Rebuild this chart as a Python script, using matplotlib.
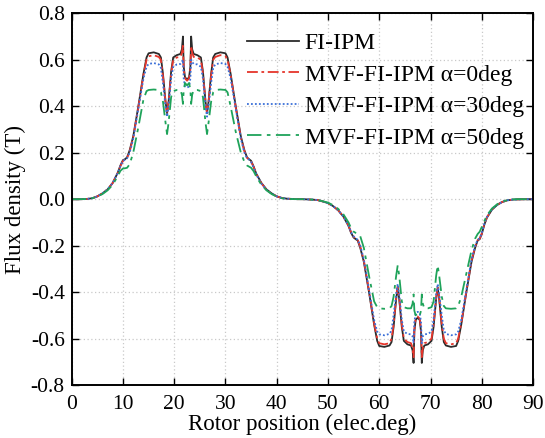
import matplotlib
matplotlib.use("Agg")
import matplotlib.pyplot as plt

plt.rcParams['font.family'] = ['Liberation Serif', 'DejaVu Serif']
plt.rcParams['mathtext.fontset'] = 'stix'

# rotor position (elec. deg)
x_pos = [0, 2, 3, 4, 5, 6, 7, 8, 9,
         9.5, 10, 10.4, 10.8, 11.3,
         12, 13, 14, 14.6, 15,
         16, 17, 17.4, 17.8, 18.3,
         18.6, 18.9, 19.4, 19.8, 20.5,
         21.2, 21.5, 21.7, 21.85, 22.1,
         22.5, 22.9, 23.15, 23.3, 23.5,
         23.8, 24.5, 25.2, 25.6, 26.1,
         26.4, 26.7, 27.2, 27.6, 28,
         29, 30, 30.4, 31, 32,
         33, 33.7, 34.2, 34.6, 35,
         35.5, 36, 37, 38, 39,
         40, 41, 42, 44]
x_neg = [45, 47, 48, 49, 50, 51, 52, 53, 54,
         54.5, 55, 55.4, 55.8, 56.3,
         57, 58, 59, 59.6, 60,
         61, 62, 62.4, 62.8, 63.3,
         63.6, 63.9, 64.4, 64.8, 65.5,
         66.2, 66.5, 66.7, 66.85, 67.1,
         67.5, 67.9, 68.15, 68.3, 68.5,
         68.8, 69.5, 70.2, 70.6, 71.1,
         71.4, 71.7, 72.2, 72.6, 73,
         74, 75, 75.4, 76, 77,
         78, 78.7, 79.2, 79.6, 80,
         80.5, 81, 82, 83, 84,
         85, 86, 87, 89, 90]

fi_pos = [0, 0, 0.001, 0.004, 0.012, 0.025, 0.042, 0.07, 0.115,
          0.145, 0.168, 0.172, 0.18, 0.21,
          0.27, 0.40, 0.54, 0.61, 0.628,
          0.632, 0.625, 0.61, 0.54, 0.42,
          0.37, 0.42, 0.55, 0.61, 0.62,
          0.625, 0.645, 0.70, 0.57, 0.525,
          0.515, 0.525, 0.57, 0.70, 0.645,
          0.625, 0.62, 0.61, 0.55, 0.42,
          0.37, 0.42, 0.54, 0.61, 0.625,
          0.632, 0.628, 0.61, 0.54, 0.40,
          0.27, 0.21, 0.18, 0.172, 0.165,
          0.14, 0.11, 0.07, 0.042, 0.025,
          0.012, 0.005, 0.002, 0.0]
fi_neg = [0, -0.002, -0.004, -0.01, -0.017, -0.03, -0.048, -0.075, -0.115,
          -0.145, -0.165, -0.172, -0.178, -0.21,
          -0.27, -0.40, -0.54, -0.61, -0.632,
          -0.636, -0.63, -0.615, -0.55, -0.43,
          -0.38, -0.43, -0.55, -0.61, -0.625,
          -0.63, -0.65, -0.705, -0.57, -0.52,
          -0.51, -0.52, -0.57, -0.705, -0.65,
          -0.63, -0.625, -0.61, -0.55, -0.43,
          -0.38, -0.43, -0.55, -0.615, -0.63,
          -0.636, -0.632, -0.61, -0.54, -0.40,
          -0.27, -0.21, -0.178, -0.172, -0.15,
          -0.11, -0.08, -0.045, -0.025, -0.012,
          -0.005, -0.002, -0.001, 0, 0]

a0_pos = [0, 0, 0.001, 0.004, 0.012, 0.025, 0.042, 0.07, 0.113,
          0.142, 0.165, 0.17, 0.178, 0.205,
          0.265, 0.395, 0.535, 0.6, 0.615,
          0.62, 0.612, 0.6, 0.53, 0.42,
          0.37, 0.42, 0.54, 0.6, 0.61,
          0.612, 0.63, 0.66, 0.56, 0.52,
          0.51, 0.52, 0.56, 0.66, 0.63,
          0.612, 0.61, 0.6, 0.54, 0.42,
          0.37, 0.42, 0.53, 0.6, 0.612,
          0.62, 0.615, 0.6, 0.535, 0.395,
          0.265, 0.205, 0.178, 0.17, 0.162,
          0.138, 0.108, 0.068, 0.041, 0.024,
          0.012, 0.005, 0.002, 0.0]
a0_neg = [0, -0.002, -0.004, -0.01, -0.017, -0.03, -0.048, -0.075, -0.113,
          -0.142, -0.162, -0.17, -0.176, -0.205,
          -0.265, -0.395, -0.535, -0.6, -0.62,
          -0.625, -0.62, -0.6, -0.54, -0.425,
          -0.375, -0.425, -0.54, -0.6, -0.615,
          -0.62, -0.64, -0.68, -0.56, -0.515,
          -0.505, -0.515, -0.56, -0.68, -0.64,
          -0.62, -0.615, -0.6, -0.54, -0.425,
          -0.375, -0.425, -0.54, -0.6, -0.62,
          -0.625, -0.62, -0.6, -0.535, -0.395,
          -0.265, -0.205, -0.176, -0.17, -0.148,
          -0.108, -0.078, -0.044, -0.024, -0.012,
          -0.005, -0.002, -0.001, 0, 0]

a30_pos = [0, 0, 0.001, 0.004, 0.012, 0.025, 0.042, 0.07, 0.113,
           0.142, 0.165, 0.17, 0.176, 0.2,
           0.26, 0.39, 0.52, 0.57, 0.582,
           0.586, 0.58, 0.565, 0.5, 0.4,
           0.355, 0.4, 0.52, 0.57, 0.58,
           0.582, 0.59, 0.6, 0.52, 0.485,
           0.48, 0.485, 0.52, 0.6, 0.59,
           0.582, 0.58, 0.57, 0.52, 0.4,
           0.355, 0.4, 0.5, 0.565, 0.58,
           0.586, 0.582, 0.57, 0.52, 0.39,
           0.26, 0.2, 0.176, 0.17, 0.16,
           0.136, 0.106, 0.067, 0.04, 0.024,
           0.012, 0.005, 0.002, 0.0]
a30_neg = [0, -0.002, -0.004, -0.01, -0.017, -0.03, -0.048, -0.075, -0.113,
           -0.142, -0.16, -0.168, -0.175, -0.2,
           -0.26, -0.39, -0.52, -0.57, -0.582,
           -0.586, -0.58, -0.565, -0.5, -0.41,
           -0.365, -0.41, -0.52, -0.57, -0.58,
           -0.582, -0.59, -0.62, -0.53, -0.49,
           -0.485, -0.49, -0.53, -0.62, -0.59,
           -0.582, -0.58, -0.57, -0.52, -0.41,
           -0.365, -0.41, -0.5, -0.565, -0.58,
           -0.586, -0.582, -0.57, -0.52, -0.39,
           -0.26, -0.2, -0.175, -0.168, -0.146,
           -0.106, -0.077, -0.043, -0.024, -0.012,
           -0.005, -0.002, -0.001, 0, 0]

a50_pos = [0, 0, 0.001, 0.004, 0.011, 0.022, 0.038, 0.062, 0.1,
           0.122, 0.132, 0.133, 0.135, 0.15,
           0.2, 0.31, 0.43, 0.465, 0.47,
           0.472, 0.47, 0.46, 0.42, 0.33,
           0.28, 0.33, 0.44, 0.465, 0.47,
           0.47, 0.45, 0.41, 0.47, 0.5,
           0.49, 0.5, 0.47, 0.41, 0.45,
           0.47, 0.47, 0.465, 0.44, 0.33,
           0.28, 0.33, 0.42, 0.46, 0.47,
           0.472, 0.47, 0.46, 0.4, 0.29,
           0.2, 0.16, 0.145, 0.14, 0.135,
           0.12, 0.098, 0.062, 0.038, 0.022,
           0.011, 0.004, 0.001, 0.0]
a50_neg = [0, -0.002, -0.004, -0.009, -0.015, -0.026, -0.042, -0.065, -0.1,
           -0.125, -0.14, -0.145, -0.148, -0.16,
           -0.21, -0.33, -0.44, -0.465, -0.47,
           -0.472, -0.47, -0.46, -0.42, -0.33,
           -0.285, -0.33, -0.44, -0.465, -0.47,
           -0.47, -0.45, -0.41, -0.48, -0.5,
           -0.49, -0.5, -0.48, -0.41, -0.45,
           -0.47, -0.47, -0.465, -0.44, -0.33,
           -0.285, -0.33, -0.42, -0.46, -0.47,
           -0.472, -0.47, -0.46, -0.42, -0.32,
           -0.22, -0.17, -0.15, -0.14, -0.12,
           -0.095, -0.07, -0.04, -0.022, -0.011,
           -0.004, -0.001, 0, 0, 0]

labels = ['FI-IPM', 'MVF-FI-IPM α=0deg', 'MVF-FI-IPM α=30deg', 'MVF-FI-IPM α=50deg']
x_ticks = [0, 10, 20, 30, 40, 50, 60, 70, 80, 90]
y_ticks = [-0.8, -0.6, -0.4, -0.2, 0.0, 0.2, 0.4, 0.6, 0.8]

x = x_pos + x_neg
series = [fi_pos + fi_neg, a0_pos + a0_neg, a30_pos + a30_neg, a50_pos + a50_neg]
colors = ['#2b2b2b', '#e5352b', '#3a6fd8', '#1fa35a']
styles = ['-', (0, (6, 2, 1.5, 2)), (0, (1, 1.2)), (0, (8, 3, 2, 3))]

fig = plt.figure(figsize=(5.45, 4.38), dpi=100)
ax = fig.add_axes([0.1316, 0.121, 0.8464, 0.8486])

for y, c, ls, lab in zip(series, colors, styles, labels):
    ax.plot(x, y, color=c, linestyle=ls, linewidth=1.3, label=lab)

ax.set_xlim(0, 90)
ax.set_ylim(-0.8, 0.8)
ax.set_xticks(x_ticks)
ax.set_yticks(y_ticks)
ax.set_yticklabels([f'{v:.1f}' for v in y_ticks])
ax.grid(True, color='#c9c9c9', linestyle=(0, (1, 2)), linewidth=0.9)
ax.tick_params(direction='in', length=5, width=1, top=True, right=True,
               labelsize=15.5)
ax.tick_params(axis='x', pad=7)
ax.tick_params(axis='y', pad=5)
for s in ax.spines.values():
    s.set_linewidth(1.4)

ax.set_xlabel('Rotor position (elec.deg)', fontsize=16.5, labelpad=0)
ax.set_ylabel('Flux density (T)', fontsize=16.5, labelpad=3)

ax.legend(loc='upper left', bbox_to_anchor=(0.38, 0.948), frameon=False,
          fontsize=17, handlelength=2.2, handletextpad=0.25,
          labelspacing=0.42, borderpad=0, borderaxespad=0)

fig.savefig('out.png', dpi=100)
